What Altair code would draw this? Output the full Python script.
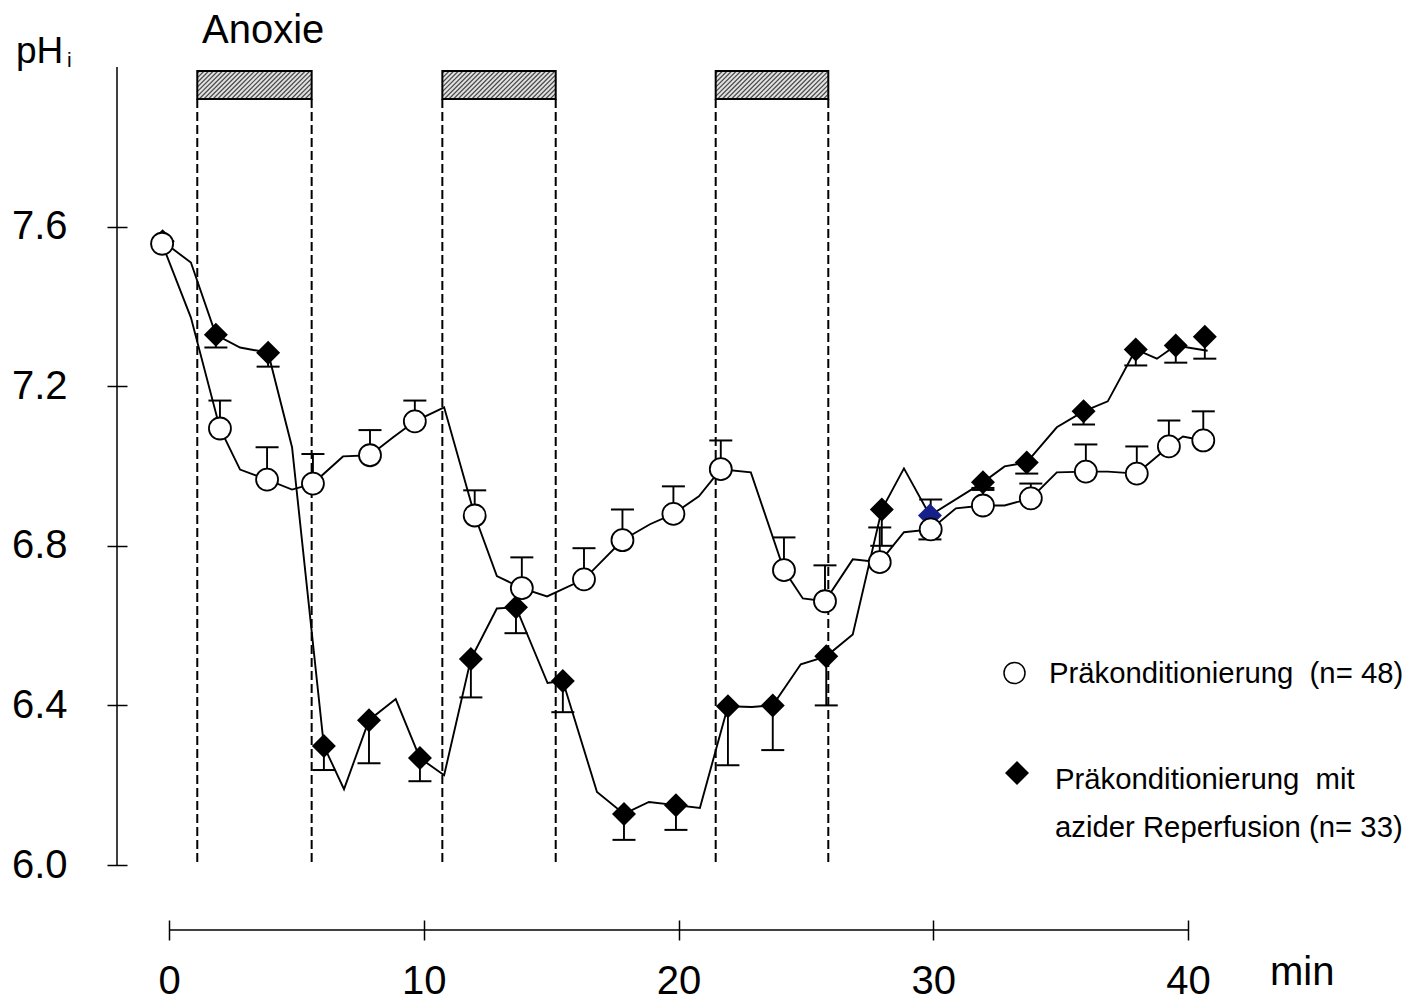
import altair as alt
import pandas as pd
import numpy as np

# ---------------- data ----------------
# Präkonditionierung (n= 48): open circles, error bars upward
circle_t = [-0.27, 2.0, 3.85, 5.65, 7.89, 9.65, 12.0, 13.85, 16.29, 17.8, 19.8, 21.66,
            24.14, 25.75, 27.9, 29.9, 31.95, 33.83, 35.99, 37.99, 39.25, 40.6]
circle_v = [7.557, 7.094, 6.966, 6.956, 7.027, 7.112, 6.876, 6.694, 6.716, 6.814, 6.88, 6.992,
            6.739, 6.661, 6.759, 6.841, 6.901, 6.919, 6.986, 6.981, 7.049, 7.064]
circle_err = [7.557, 7.164, 7.047, 7.03, 7.09, 7.164, 6.939, 6.771, 6.794, 6.891, 6.949, 7.064,
              6.821, 6.751, 6.846, 6.916, 6.945, 6.956, 7.054, 7.049, 7.114, 7.137]

# line through the circle series (with intermediate vertices)
circle_line_t = [-0.27, 0.86, 2.0, 2.79, 3.85, 4.83, 5.65, 6.83, 7.89, 8.8, 9.65, 10.8, 12.0,
                 12.87, 13.85, 14.84, 16.29, 17.8, 18.88, 19.8, 20.8, 21.66, 22.84, 24.14,
                 24.88, 25.75, 26.84, 27.9, 28.85, 29.9, 30.89, 31.95, 32.8, 33.83, 34.85,
                 35.99, 36.85, 37.99, 39.25, 39.8, 40.6]
circle_line_v = [7.557, 7.372, 7.094, 6.991, 6.966, 6.941, 6.956, 7.024, 7.027, 7.072, 7.112,
                 7.147, 6.876, 6.724, 6.694, 6.673, 6.716, 6.814, 6.854, 6.88, 6.924, 6.992,
                 6.984, 6.739, 6.668, 6.661, 6.766, 6.759, 6.834, 6.841, 6.894, 6.901, 6.901,
                 6.919, 6.984, 6.986, 6.986, 6.981, 7.049, 7.074, 7.064]

# Präkonditionierung mit azider Reperfusion (n= 33): filled diamonds, error bars downward
diamond_t = [-0.25, 1.84, 3.89, 6.08, 7.85, 9.85, 11.85, 13.62, 15.46, 17.86, 19.9, 21.94,
             23.7, 25.8, 27.98, 29.87, 31.95, 33.67, 35.9, 37.95, 39.52, 40.66]
diamond_v = [7.563, 7.329, 7.284, 6.298, 6.363, 6.268, 6.516, 6.646, 6.461, 6.128, 6.15, 6.398,
             6.40, 6.523, 6.891, 6.876, 6.959, 7.009, 7.137, 7.292, 7.302, 7.324]
diamond_err = [7.563, 7.297, 7.249, 6.238, 6.255, 6.21, 6.42, 6.581, 6.383, 6.063, 6.088, 6.25,
               6.288, 6.40, 6.80, 6.816, 6.94, 6.981, 7.104, 7.252, 7.259, 7.269]
diamond_col = ["black"] * 15 + ["#16208a"] + ["black"] * 6

diamond_line_t = [-0.25, 0.86, 1.84, 2.79, 3.89, 4.83, 6.08, 6.87, 7.85, 8.9, 9.85, 10.8, 11.85,
                  12.87, 13.62, 14.86, 15.46, 16.8, 17.86, 18.84, 19.9, 20.84, 21.94, 22.88,
                  23.7, 24.8, 25.8, 26.84, 27.98, 28.85, 29.87, 31.95, 32.8, 33.67, 34.85,
                  35.9, 36.85, 37.95, 38.78, 39.52, 40.77]
diamond_line_v = [7.563, 7.51, 7.329, 7.297, 7.284, 7.047, 6.298, 6.19, 6.363, 6.416, 6.268,
                  6.225, 6.516, 6.643, 6.646, 6.456, 6.461, 6.183, 6.128, 6.158, 6.15, 6.143,
                  6.398, 6.396, 6.40, 6.503, 6.523, 6.578, 6.891, 6.994, 6.876, 6.959, 6.999,
                  7.009, 7.097, 7.137, 7.162, 7.292, 7.269, 7.302, 7.289]

# anoxia periods (min)
anox_start = [1.11, 10.73, 21.46]
anox_end = [5.60, 15.18, 25.88]

y_ticks = [6.0, 6.4, 6.8, 7.2, 7.6]
x_ticks = [0, 10, 20, 30, 40]

NB = "\u00a0"
legend_labels = ["Präkonditionierung " + NB + "(n= 48)", "Präkonditionierung " + NB + "mit",
                 "azider Reperfusion (n= 33)"]

# ---------------- layout ----------------
W, H = 1019, 798
X_DOMAIN = [0, 40]
Y_DOMAIN = [6.0, 8.0]
PX_MIN = W / (X_DOMAIN[1] - X_DOMAIN[0])
PX_PH = H / (Y_DOMAIN[1] - Y_DOMAIN[0])
FONT = "Liberation Sans"
BOX_TOP, BOX_BOT = 4, 32

xs = alt.Scale(domain=X_DOMAIN, nice=False, zero=False)
ys = alt.Scale(domain=Y_DOMAIN, nice=False, zero=False)

circ_df = pd.DataFrame({"t": circle_t, "v": circle_v, "e": circle_err})
circ_line_df = pd.DataFrame({"t": circle_line_t, "v": circle_line_v,
                             "o": range(len(circle_line_t))})
dia_df = pd.DataFrame({"t": diamond_t, "v": diamond_v, "e": diamond_err, "col": diamond_col})
dia_line_df = pd.DataFrame({"t": diamond_line_t, "v": diamond_line_v,
                            "o": range(len(diamond_line_t))})
anox_df = pd.DataFrame({"t": anox_start, "e": anox_end})
bound_df = pd.DataFrame({"t": anox_start + anox_end})

# hatch lines for the anoxia boxes, derived from the box extents
rows = []
spacing = 4.6
for s, e in zip(anox_start, anox_end):
    bw = (e - s) * PX_MIN
    bh = BOX_BOT - BOX_TOP
    c = spacing / 2
    while c < bw + bh:
        ws = min(bh, c); us = c - ws
        ue = min(bw, c); we = c - ue
        rows.append({"t": s + us / PX_MIN, "t2": s + ue / PX_MIN,
                     "v": Y_DOMAIN[1] - (BOX_TOP + ws) / PX_PH,
                     "v2": Y_DOMAIN[1] - (BOX_TOP + we) / PX_PH})
        c += spacing
hatch_df = pd.DataFrame(rows)

one = pd.DataFrame({"a": [0]})

x_axis = alt.Axis(values=x_ticks, format="d", offset=55, tickSize=20, domain=False, grid=False,
                  labelPadding=21, labelFontSize=40, labelFont=FONT, labelColor="black",
                  tickColor="black", tickWidth=1.5, labelFlush=False, labelOverlap=False,
                  title=None)
y_axis = alt.Axis(values=y_ticks, format=".1f", offset=42, tickSize=20, domain=False, grid=False,
                  labelPadding=40, labelFontSize=40, labelFont=FONT, labelColor="black",
                  tickColor="black", tickWidth=1.5, labelFlush=False, labelOverlap=False,
                  title=None)

X = lambda f: alt.X(f, scale=xs, axis=x_axis, title=None)
Y = lambda f: alt.Y(f, scale=ys, axis=y_axis, title=None)

y_line = alt.Chart(one).mark_rule(color="black", strokeWidth=1.5).encode(
    x=alt.value(-52), y=alt.value(0), y2=alt.value(H))
x_line = alt.Chart(one).mark_rule(color="black", strokeWidth=1.6).encode(
    x=alt.value(0), x2=alt.value(W), y=alt.value(863))

dashes = alt.Chart(bound_df).mark_rule(color="black", strokeWidth=2, strokeDash=[9, 4]).encode(
    x=X("t:Q"), y=alt.value(BOX_BOT), y2=alt.value(H))

box_fill = alt.Chart(anox_df).mark_rect(fill="#e2e2e2").encode(
    x=X("t:Q"), x2="e:Q", y=alt.value(BOX_TOP), y2=alt.value(BOX_BOT))
hatch = alt.Chart(hatch_df).mark_rule(color="#4a4a4a", strokeWidth=1.2).encode(
    x=X("t:Q"), x2="t2:Q", y=Y("v:Q"), y2="v2:Q")
box_edge = alt.Chart(anox_df).mark_rect(fillOpacity=0, stroke="black", strokeWidth=2).encode(
    x=X("t:Q"), x2="e:Q", y=alt.value(BOX_TOP), y2=alt.value(BOX_BOT))

c_line = alt.Chart(circ_line_df).mark_line(color="black", strokeWidth=1.9).encode(
    x=X("t:Q"), y=Y("v:Q"), order="o:Q")
d_line = alt.Chart(dia_line_df).mark_line(color="black", strokeWidth=1.9).encode(
    x=X("t:Q"), y=Y("v:Q"), order="o:Q")

CAP = "M-1,0L1,0"
c_err = alt.Chart(circ_df).mark_rule(color="black", strokeWidth=1.9).encode(
    x=X("t:Q"), y=Y("v:Q"), y2="e:Q")
c_cap = alt.Chart(circ_df).mark_point(shape=CAP, size=529, strokeWidth=2, color="black",
                                      filled=False, opacity=1).encode(x=X("t:Q"), y=Y("e:Q"))
d_err = alt.Chart(dia_df).mark_rule(color="black", strokeWidth=1.9).encode(
    x=X("t:Q"), y=Y("v:Q"), y2="e:Q")
d_cap = alt.Chart(dia_df).mark_point(shape=CAP, size=529, strokeWidth=2, color="black",
                                     filled=False, opacity=1).encode(x=X("t:Q"), y=Y("e:Q"))

d_pts = alt.Chart(dia_df).mark_point(shape="diamond", size=576, filled=True, opacity=1,
                                     strokeWidth=0).encode(
    x=X("t:Q"), y=Y("v:Q"), fill=alt.Fill("col:N", scale=None))
c_pts = alt.Chart(circ_df).mark_point(shape="circle", size=484, filled=True, fill="white",
                                      stroke="black", strokeWidth=1.8, opacity=1).encode(
    x=X("t:Q"), y=Y("v:Q"))


def txt(s, x, y, size, align="left"):
    return alt.Chart(pd.DataFrame({"s": [s]})).mark_text(
        align=align, baseline="alphabetic", font=FONT, fontSize=size, color="black").encode(
        text="s:N", x=alt.value(x), y=alt.value(y))


t_anox = txt("Anoxie", 33, -24, 40)
t_ph = txt("pH", -153, -4, 37)
t_phi = txt("i", -102, 0, 21)
t_min = txt("min", 1101, 918, 40)

leg_c = alt.Chart(one).mark_point(shape="circle", size=441, filled=True, fill="white",
                                  stroke="black", strokeWidth=1.5, opacity=1).encode(
    x=alt.value(845.5), y=alt.value(606))
leg_d = alt.Chart(one).mark_point(shape="diamond", size=576, filled=True, fill="black",
                                  opacity=1, strokeWidth=0).encode(
    x=alt.value(848), y=alt.value(706))
leg_t1 = txt(legend_labels[0], 880, 616, 29.3)
leg_t2 = txt(legend_labels[1], 886, 722, 29.3)
leg_t3 = txt(legend_labels[2], 886, 770, 29.3)

chart = alt.layer(
    y_line, x_line, dashes, box_fill, hatch, box_edge,
    c_line, d_line, c_err, d_err, c_cap, d_cap, d_pts, c_pts,
    t_anox, t_ph, t_phi, t_min, leg_c, leg_d, leg_t1, leg_t2, leg_t3,
).properties(
    width=W, height=H,
    autosize=alt.AutoSizeParams(type="none"),
    padding={"left": 169, "top": 67, "right": 1421 - 169 - W, "bottom": 1001 - 67 - H},
    background="white",
).configure_view(stroke=None)

chart.save("out.html", embed_options={"renderer": "svg", "actions": False})
